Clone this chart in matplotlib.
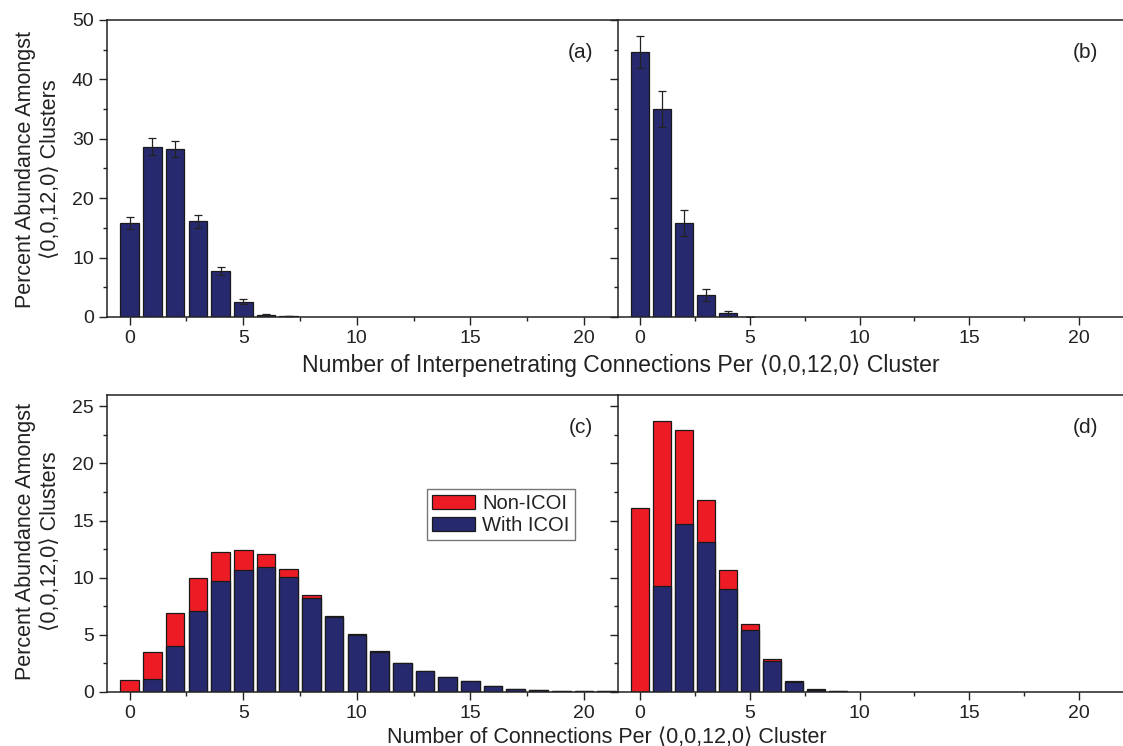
import matplotlib
matplotlib.use("Agg")
import matplotlib.pyplot as plt
import numpy as np
from matplotlib.ticker import MultipleLocator
from matplotlib.patches import Patch

plt.rcParams['font.family'] = ['Liberation Sans', 'DejaVu Sans']

# Panel (a)
a_x = list(range(0, 8))
a_vals = [15.8, 28.7, 28.3, 16.1, 7.8, 2.6, 0.4, 0.15]
a_err = [1.05, 1.5, 1.4, 1.1, 0.7, 0.35, 0.1, 0.05]

# Panel (b)
b_x = list(range(0, 6))
b_vals = [44.6, 35.0, 15.8, 3.65, 0.62, 0.05]
b_err = [2.7, 3.0, 2.2, 1.0, 0.45, 0.0]

# Panel (c): stacked
c_x = list(range(0, 22))
c_with = [0.0, 1.14, 4.0, 7.08, 9.68, 10.67, 10.96, 10.09, 8.19, 6.55, 4.94, 3.48,
          2.54, 1.81, 1.26, 0.91, 0.5, 0.23, 0.12, 0.09, 0.04, 0.03]
c_total = [1.02, 3.45, 6.9, 10.0, 12.2, 12.4, 12.08, 10.73, 8.5, 6.67, 5.09, 3.57,
           2.54, 1.81, 1.26, 0.91, 0.5, 0.23, 0.12, 0.09, 0.04, 0.03]

# Panel (d)
d_x = list(range(0, 10))
d_with = [0.0, 9.3, 14.68, 13.16, 9.0, 5.4, 2.69, 0.82, 0.18, 0.07]
d_total = [16.08, 23.74, 22.92, 16.84, 10.64, 5.9, 2.87, 0.9, 0.2, 0.08]

panel_labels = ['(a)', '(b)', '(c)', '(d)']
legend_labels = ['Non-ICOI', 'With ICOI']
ylabel = 'Percent Abundance Amongst\n\u27e80,0,12,0\u27e9 Clusters'
xlabel_top = 'Number of Interpenetrating Connections Per \u27e80,0,12,0\u27e9 Cluster'
xlabel_bot = 'Number of Connections Per \u27e80,0,12,0\u27e9 Cluster'

NAVY = '#27296f'
RED = '#ed1c24'
EDGE = '#1a1a1a'
TXT = '#222222'
FS = 14

W_PX, H_PX = 1123, 746
fig = plt.figure(figsize=(W_PX / 100, H_PX / 100), dpi=100)

def fx(px):
    return px / W_PX

def fy(py):
    return 1 - py / H_PX

L, M, R = fx(107), fx(618), 1.0
top_b, top_t = fy(317), fy(20)
bot_b, bot_t = fy(691.7), fy(395)

axa = fig.add_axes([L, top_b, M - L, top_t - top_b])
axb = fig.add_axes([M, top_b, R - M, top_t - top_b])
axc = fig.add_axes([L, bot_b, M - L, bot_t - bot_b])
axd = fig.add_axes([M, bot_b, R - M, bot_t - bot_b])

W = 0.82
ekw = dict(ecolor='#222222', elinewidth=0.9, capsize=3, capthick=0.9)
axa.bar(a_x, a_vals, width=W, color=NAVY, edgecolor=EDGE, linewidth=0.9, yerr=a_err, error_kw=ekw)
axb.bar(b_x, b_vals, width=W, color=NAVY, edgecolor=EDGE, linewidth=0.9, yerr=b_err, error_kw=ekw)

for ax, xs, tot, wi in [(axc, c_x, c_total, c_with), (axd, d_x, d_total, d_with)]:
    ax.bar(xs, tot, width=W, color=RED, edgecolor=EDGE, linewidth=0.9)
    ax.bar(xs, wi, width=W, color=NAVY, edgecolor=EDGE, linewidth=0.9)

for ax, xmax in [(axa, 21.5), (axb, 22.0), (axc, 21.5), (axd, 22.0)]:
    ax.set_xlim(-1, xmax)
    ax.xaxis.set_major_locator(MultipleLocator(5))
    ax.xaxis.set_minor_locator(MultipleLocator(2.5))
    ax.tick_params(axis='both', which='major', direction='out', length=5.5, width=1,
                   labelsize=FS, colors=TXT, pad=4)
    ax.tick_params(axis='both', which='minor', direction='out', length=3, width=1, colors=TXT)
    for s in ax.spines.values():
        s.set_linewidth(1.1)
        s.set_color(TXT)
    ax.spines['right'].set_visible(False)

for ax in (axa, axb):
    ax.set_ylim(0, 50)
    ax.yaxis.set_major_locator(MultipleLocator(10))
    ax.yaxis.set_minor_locator(MultipleLocator(5))
for ax in (axc, axd):
    ax.set_ylim(0, 26)
    ax.yaxis.set_major_locator(MultipleLocator(5))
    ax.yaxis.set_minor_locator(MultipleLocator(2.5))

for ax in (axb, axd):
    ax.tick_params(axis='y', which='both', labelleft=False)

# y labels
fig.text(fx(38), fy(169), ylabel, rotation=90, ha='center', va='center',
         multialignment='center', fontsize=15.5, linespacing=1.28, color=TXT)
fig.text(fx(38), fy(541), ylabel, rotation=90, ha='center', va='center',
         multialignment='center', fontsize=15.5, linespacing=1.28, color=TXT)

for ax, lab in zip([axa, axb, axc, axd], panel_labels):
    ax.text(0.952 if ax in (axa, axc) else 0.95, 0.892, lab,
            transform=ax.transAxes, ha='right', va='center', fontsize=15, color=TXT)

fig.text(fx(621), fy(372), xlabel_top, ha='center', va='baseline', fontsize=16.6, color=TXT)
fig.text(fx(607), fy(743), xlabel_bot, ha='center', va='baseline', fontsize=15.5, color=TXT)

handles = [Patch(facecolor=RED, edgecolor=EDGE, linewidth=0.9),
           Patch(facecolor=NAVY, edgecolor=EDGE, linewidth=0.9)]
leg = axc.legend(handles, legend_labels, loc='upper left',
                 bbox_to_anchor=((427 - 107) / 511, (691.7 - 489) / 296.7),
                 fontsize=14.5, frameon=True, fancybox=False, handlelength=2.15,
                 handleheight=0.7, handletextpad=0.35, borderpad=0.25, labelspacing=0.15,
                 borderaxespad=0)
leg.get_frame().set_edgecolor('#555555')
leg.get_frame().set_linewidth(1.0)
for t in leg.get_texts():
    t.set_color(TXT)

fig.savefig('out.png', dpi=100)
